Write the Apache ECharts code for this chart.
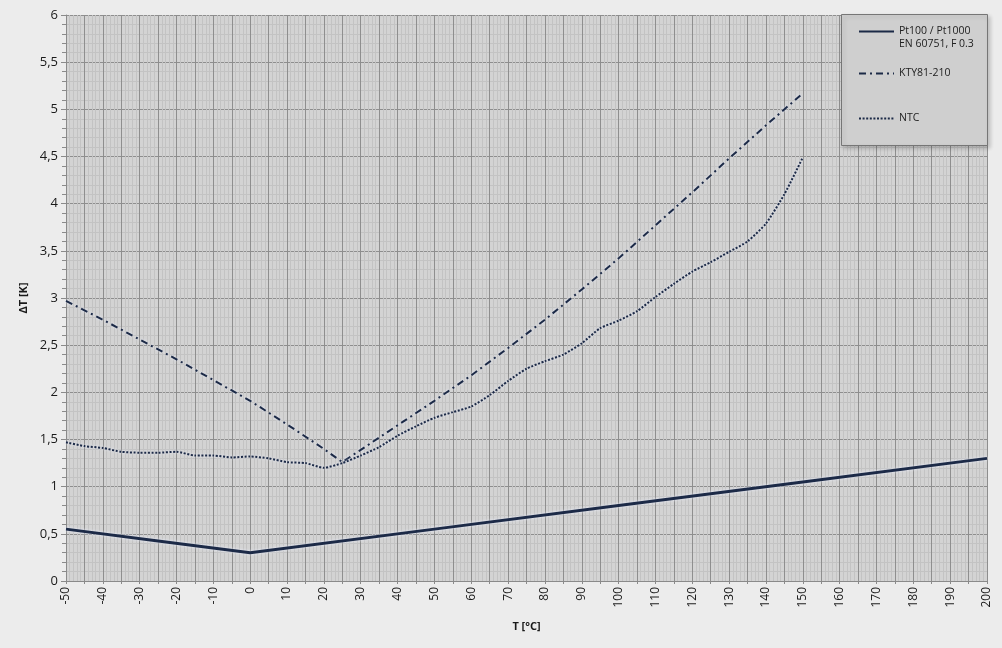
<!DOCTYPE html>
<html>
<head>
<meta charset="utf-8">
<script src="https://cdn.jsdelivr.net/npm/echarts@6/dist/echarts.min.js"></script>
<style>
html,body{margin:0;padding:0;background:#ececec;}
#c{width:1002px;height:648px;}
</style>
</head>
<body>
<div id="c"></div>
<script>
// Pt100 / Pt1000 class F 0.3
var ptT = [-50, -25, 0, 50, 100, 150, 200];
var ptV = [0.55, 0.425, 0.30, 0.55, 0.80, 1.05, 1.30];
// KTY81-210
var ktyT = [-50,-40,-30,-20,-10,0,10,20,25,30,40,50,60,70,80,90,100,110,120,130,140,150];
var ktyV = [2.97,2.77,2.56,2.35,2.13,1.91,1.66,1.40,1.26,1.39,1.65,1.91,2.18,2.47,2.77,3.09,3.42,3.77,4.12,4.48,4.83,5.17];
// NTC
var ntcT = [-50,-45,-40,-35,-30,-25,-20,-15,-10,-5,0,5,10,15,20,25,30,35,40,45,50,55,60,65,70,75,80,85,90,95,100,105,110,115,120,125,130,135,140,145,150];
var ntcV = [1.47,1.43,1.41,1.37,1.36,1.36,1.37,1.33,1.33,1.31,1.32,1.30,1.26,1.25,1.20,1.25,1.33,1.42,1.54,1.64,1.73,1.79,1.85,1.97,2.12,2.25,2.33,2.40,2.52,2.68,2.76,2.86,3.01,3.15,3.28,3.38,3.49,3.60,3.79,4.10,4.49];

var names = ['Pt100 / Pt1000', 'KTY81-210', 'NTC'];
var ptNote = 'EN 60751, F 0.3';
var xTitle = 'T [°C]';
var yTitle = 'ΔT [K]';

function pairs(t, v){ return t.map(function(x,i){return [x, v[i]];}); }

var FONT = 'Open Sans';
var lineColor = '#1c2a47';
var halo = {shadowColor:'rgba(235,240,255,0.9)', shadowBlur:3};

var chart = echarts.init(document.getElementById('c'), null, {renderer:'canvas'});
chart.setOption({
  backgroundColor:'#ececec',
  animation:false,
  textStyle:{fontFamily:FONT},
  grid:{left:66,right:15,top:15,bottom:67,show:true,backgroundColor:'#d3d3d3',borderWidth:0},
  xAxis:{
    type:'value', min:-50, max:200, interval:5,
    name:xTitle, nameLocation:'middle', nameGap:40,
    nameTextStyle:{fontFamily:FONT,fontSize:11,fontWeight:'bold',color:'#1a1a1a'},
    axisLine:{show:true,onZero:false,lineStyle:{color:'#8a8a8a',width:1}},
    axisTick:{show:true,length:3,lineStyle:{color:'#8a8a8a'}},
    axisLabel:{rotate:90,margin:6,fontSize:12,color:'#1a1a1a',fontFamily:FONT,
      formatter:function(v){ return (v % 10 === 0) ? String(v) : ''; }},
    splitLine:{show:true,lineStyle:{color:'#8e8e8e',width:1}},
    minorTick:{show:false,splitNumber:5},
    minorSplitLine:{show:true,lineStyle:{color:'#c3c3c3',width:1}}
  },
  yAxis:{
    type:'value', min:0, max:6, interval:0.5,
    name:yTitle, nameLocation:'middle', nameGap:36, nameRotate:90,
    nameTextStyle:{fontFamily:FONT,fontSize:11,fontWeight:'bold',color:'#1a1a1a'},
    axisLine:{show:true,onZero:false,lineStyle:{color:'#8a8a8a',width:1}},
    axisTick:{show:true,length:5,lineStyle:{color:'#8a8a8a'}},
    minorTick:{show:true,splitNumber:5,length:4,lineStyle:{color:'#8a8a8a'}},
    axisLabel:{margin:8,fontSize:13,color:'#1a1a1a',fontFamily:FONT,
      formatter:function(v){ return String(v).replace('.', ','); }},
    splitLine:{show:true,lineStyle:{color:'#8e8e8e',width:1}},
    minorSplitLine:{show:true,lineStyle:{color:'#c3c3c3',width:1}}
  },
  graphic:[{
    type:'rect', z:50, left:841, top:14,
    shape:{width:146,height:131},
    style:{fill:'#cfcfcf',stroke:'#767676',lineWidth:1,shadowColor:'rgba(0,0,0,0.18)',shadowBlur:4,shadowOffsetX:2,shadowOffsetY:2}
  }],
  legend:[
    {z:60,left:858,top:12,padding:0,orient:'vertical',itemWidth:35,itemHeight:3,itemGap:4,
     itemStyle:{opacity:0},
     data:[names[0]],
     formatter:function(n){ return '{e|}\n{t|'+n+'}\n{t|'+ptNote+'}'; },
     textStyle:{rich:{e:{height:13,lineHeight:13,fontSize:10.5},t:{fontFamily:FONT,fontSize:10.5,lineHeight:13,color:'#222'}}}},
    {z:60,left:858,top:68,padding:0,orient:'vertical',itemWidth:35,itemHeight:3,
     itemStyle:{opacity:0},
     data:[names[1]], textStyle:{fontFamily:FONT,fontSize:10.5,color:'#222'}},
    {z:60,left:858,top:113,padding:0,orient:'vertical',itemWidth:35,itemHeight:3,
     itemStyle:{opacity:0},
     data:[names[2]], textStyle:{fontFamily:FONT,fontSize:10.5,color:'#222'}}
  ],
  series:[
    {name:names[0],type:'line',data:pairs(ptT,ptV),showSymbol:false,symbol:'none',
     lineStyle:Object.assign({color:lineColor,width:3,type:'solid'},halo),itemStyle:{color:lineColor}},
    {name:names[1],type:'line',data:pairs(ktyT,ktyV),showSymbol:false,symbol:'none',
     lineStyle:Object.assign({color:lineColor,width:2,type:[7,4,2,4]},halo),itemStyle:{color:lineColor}},
    {name:names[2],type:'line',data:pairs(ntcT,ntcV),showSymbol:false,symbol:'none',smooth:0.2,
     lineStyle:Object.assign({color:lineColor,width:2,type:[2,1.6]},halo),itemStyle:{color:lineColor}}
  ]
});
</script>
</body>
</html>
